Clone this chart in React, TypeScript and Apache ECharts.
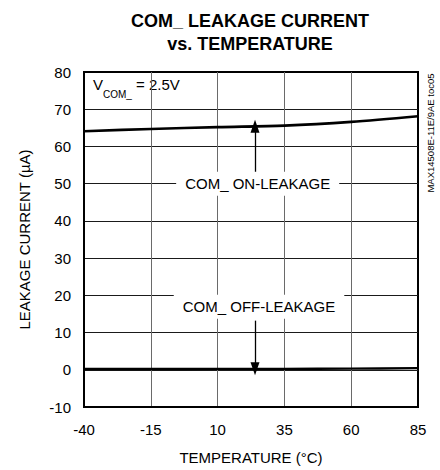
import React, { useEffect, useRef } from "react";
import * as echarts from "echarts";

const temperatures = [-40, -15, 10, 35, 60, 85];
const onLeakage = [64.1, 64.7, 65.2, 65.6, 66.6, 68.1];
const offLeakage = [0.2, 0.2, 0.25, 0.25, 0.3, 0.45];

const xMin = -40;
const xMax = 85;
const xStep = 25;
const yMin = -10;
const yMax = 80;
const yStep = 10;

const titleLines = ["COM_ LEAKAGE CURRENT", "vs. TEMPERATURE"];
const xTitle = "TEMPERATURE (°C)";
const yTitle = "LEAKAGE CURRENT (µA)";
const sideNote = "MAX14508E-11E/9AE toc05";

const onLabelText = "COM_ ON-LEAKAGE";
const onLabelAt = [25, 50];
const onArrowFrom = [24, 52.7];
const onArrowTo = [24, 65.4];

const offLabelText = "COM_ OFF-LEAKAGE";
const offLabelAt = [25.5, 16.9];
const offArrowFrom = [24, 13.2];
const offArrowTo = [24, 0.25];

const FONT = "'Liberation Sans', Arial, Helvetica, sans-serif";

export default function App() {
  const ref = useRef<HTMLDivElement>(null);
  useEffect(() => {
    if (!ref.current) return;
    const chart = echarts.init(ref.current, undefined, { renderer: "svg" });
    const labelBox = (text: string, at: number[]) => ({
      coord: at,
      value: text,
      symbol: "rect",
      symbolSize: 1,
      itemStyle: { color: "rgba(0,0,0,0)" },
      label: {
        show: true,
        position: "inside",
        formatter: text,
        color: "#000",
        fontSize: 15,
        fontFamily: FONT,
        backgroundColor: "#fff",
        padding: [5, 9, 4, 9],
      },
    });
    const arrowStyle = {
      symbol: ["none", "triangle"],
      symbolSize: [9, 13],
      silent: true,
      label: { show: false },
      lineStyle: { color: "#000", width: 1.3, type: "solid" },
      emphasis: { disabled: true },
    };
    chart.setOption({
      animation: false,
      backgroundColor: "#fff",
      textStyle: { fontFamily: FONT },
      grid: {
        left: 84,
        right: 22,
        top: 72,
        bottom: 63,
        show: true,
        borderColor: "#000",
        borderWidth: 2,
        backgroundColor: "transparent",
      },
      xAxis: {
        type: "value",
        min: xMin,
        max: xMax,
        interval: xStep,
        name: xTitle,
        nameLocation: "middle",
        nameGap: 43,
        nameTextStyle: { color: "#000", fontSize: 15, fontFamily: FONT },
        axisLine: { show: true, onZero: false, lineStyle: { color: "#000", width: 2 } },
        axisTick: { show: false },
        axisLabel: { color: "#000", fontSize: 15, fontFamily: FONT, margin: 15 },
        splitLine: {
          show: true,
          showMinLine: false,
          showMaxLine: false,
          lineStyle: { color: "#6a6a6a", width: 1 },
        },
      },
      yAxis: {
        type: "value",
        min: yMin,
        max: yMax,
        interval: yStep,
        name: yTitle,
        nameLocation: "middle",
        nameGap: 52,
        nameRotate: 90,
        nameTextStyle: { color: "#000", fontSize: 15, fontFamily: FONT },
        axisLine: { show: true, onZero: false, lineStyle: { color: "#000", width: 2 } },
        axisTick: { show: false },
        axisLabel: { color: "#000", fontSize: 15, fontFamily: FONT, margin: 13 },
        splitLine: {
          show: true,
          showMinLine: false,
          showMaxLine: false,
          lineStyle: { color: "#1a1a1a", width: 1 },
        },
      },
      graphic: [
        {
          type: "text",
          x: 250,
          y: 9,
          style: {
            text: titleLines.join("\n"),
            fill: "#000",
            font: `bold 18px ${FONT}`,
            lineHeight: 23,
            textAlign: "center",
          },
        },
        {
          type: "text",
          x: 89,
          y: 74,
          style: {
            text: "{a|V}{b|COM_}{a| = 2.5V}",
            backgroundColor: "#fff",
            padding: [3, 8, 3, 4],
            rich: {
              a: { fontSize: 15, fontFamily: FONT, fill: "#000", color: "#000", lineHeight: 22, verticalAlign: "top" },
              b: { fontSize: 10, fontFamily: FONT, fill: "#000", color: "#000", lineHeight: 10, verticalAlign: "bottom" },
            },
          },
        },
        {
          type: "text",
          x: 430,
          y: 133,
          rotation: Math.PI / 2,
          style: {
            text: sideNote,
            fill: "#000",
            font: `9.5px ${FONT}`,
            textAlign: "center",
            textVerticalAlign: "middle",
          },
        },
      ],
      series: [
        {
          name: "ON",
          type: "line",
          data: temperatures.map((t, i) => [t, onLeakage[i]]),
          showSymbol: false,
          smooth: 0.3,
          lineStyle: { color: "#000", width: 2.6 },
          markLine: {
            ...arrowStyle,
            data: [[{ coord: onArrowFrom }, { coord: onArrowTo }]],
          },
          markPoint: {
            silent: true,
            data: [labelBox(onLabelText, onLabelAt)],
          },
        },
        {
          name: "OFF",
          type: "line",
          data: temperatures.map((t, i) => [t, offLeakage[i]]),
          showSymbol: false,
          smooth: 0.3,
          lineStyle: { color: "#000", width: 2.4 },
          markLine: {
            ...arrowStyle,
            data: [[{ coord: offArrowFrom }, { coord: offArrowTo }]],
          },
          markPoint: {
            silent: true,
            data: [labelBox(offLabelText, offLabelAt)],
          },
        },
      ],
    });
    return () => chart.dispose();
  }, []);
  return <div ref={ref} style={{ width: 440, height: 470, position: "absolute", left: 0, top: 0 }} />;
}
